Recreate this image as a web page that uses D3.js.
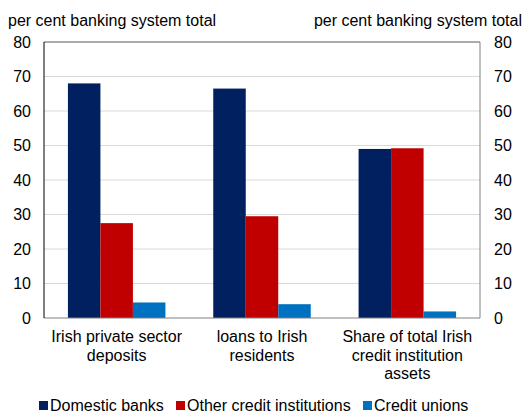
<!DOCTYPE html>
<html><head><meta charset="utf-8">
<script src="https://cdn.jsdelivr.net/npm/d3@7"></script>
<style>body{margin:0;background:#fff}svg{display:block}text{font-family:"Liberation Sans",Arial,sans-serif;fill:#000}</style>
</head><body><svg id="c" width="524" height="412"></svg>
<script>
const categories = [["Irish private sector","deposits"],["loans to Irish","residents"],["Share of total Irish","credit institution","assets"]];
const seriesNames = ["Domestic banks","Other credit institutions","Credit unions"];
const domesticBanks = [68, 66.5, 49];
const otherCredit = [27.5, 29.5, 49.2];
const creditUnions = [4.5, 4.0, 1.9];
const tickValues = [0,10,20,30,40,50,60,70,80];
const axisTitle = "per cent banking system total";
const colors = ["#002060","#C00000","#0070C0"];

const series = [domesticBanks, otherCredit, creditUnions];
const svg = d3.select("#c");
const FS = 16;
const L=44, R=480, T=42, B=318;
const y = d3.scaleLinear().domain([0,80]).range([B,T]);
const x0 = d3.scaleBand().domain(d3.range(3)).range([L,R]).padding(0);
const groupW = 97.5;
const x1 = d3.scaleBand().domain(d3.range(3)).range([0,groupW]).padding(0);

// gridlines
svg.append("g").selectAll("line").data(tickValues.filter(v=>v>0&&v<80)).join("line")
  .attr("x1",L).attr("x2",R).attr("y1",d=>y(d)).attr("y2",d=>y(d))
  .attr("stroke","#d9d9d9").attr("stroke-width",1);

// bars
const g = svg.append("g");
series.forEach((vals,si)=>{
  g.selectAll(null).data(vals).join("rect")
   .attr("x",(d,i)=>x0(i)+(x0.bandwidth()-groupW)/2+x1(si))
   .attr("width",x1.bandwidth())
   .attr("y",d=>y(d)).attr("height",d=>B-y(d))
   .attr("fill",colors[si]);
});

// frame
svg.append("line").attr("x1",L).attr("x2",R).attr("y1",T).attr("y2",T).attr("stroke","#595959");
svg.append("line").attr("x1",R).attr("x2",R).attr("y1",T).attr("y2",B).attr("stroke","#808080");
svg.append("line").attr("x1",L).attr("x2",R).attr("y1",B).attr("y2",B).attr("stroke","#808080");
svg.append("line").attr("x1",L).attr("x2",L).attr("y1",T).attr("y2",B).attr("stroke","#000");

// axes
const la = d3.axisLeft(y).tickValues(tickValues).tickSize(0).tickPadding(13);
const ra = d3.axisRight(y).tickValues(tickValues).tickSize(0).tickPadding(14);
const gl = svg.append("g").attr("transform",`translate(${L},0)`).call(la);
const gr = svg.append("g").attr("transform",`translate(${R},0)`).call(ra);
[gl,gr].forEach(a=>{a.select(".domain").remove();a.selectAll("text").attr("font-size",FS).attr("font-family",'"Liberation Sans",Arial,sans-serif').attr("fill","#000");});

svg.append("text").attr("x",8).attr("y",26).attr("font-size",FS).text(axisTitle);
svg.append("text").attr("x",522).attr("y",26).attr("font-size",FS).attr("text-anchor","end").text(axisTitle);

// category labels
categories.forEach((lines,i)=>{
  const t = svg.append("text").attr("text-anchor","middle").attr("font-size",FS)
    .attr("x",x0(i)+x0.bandwidth()/2).attr("y",342);
  lines.forEach((ln,k)=>t.append("tspan").attr("x",x0(i)+x0.bandwidth()/2).attr("dy",k?18.5:0).text(ln));
});

// legend
const legX=[39,176,363];
seriesNames.forEach((n,i)=>{
  svg.append("rect").attr("x",legX[i]).attr("y",401).attr("width",9).attr("height",9).attr("fill",colors[i]);
  svg.append("text").attr("x",legX[i]+11).attr("y",410.5).attr("font-size",FS).text(n);
});
</script></body></html>
